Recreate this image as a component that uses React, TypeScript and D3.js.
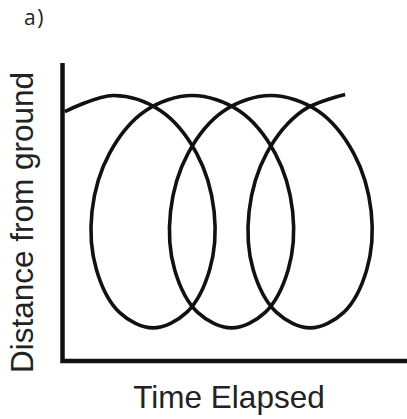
import React from "react";
import * as d3 from "d3";

// Time values (arbitrary units, 0..100 along the time axis)
const timeValues: number[] = [
  0.7, 14.9, 28.6, 39.1, 44.2, 42.9, 36.2, 26.4, 16.6, 9.9, 8.6, 13.7, 24.2,
  37.8, 51.5, 62.0, 67.1, 65.8, 59.1, 49.3, 39.4, 32.7, 31.5, 36.6, 47.1,
  60.7, 74.4, 84.9, 90.0, 88.7, 82.0, 72.2, 62.4, 55.6, 54.4, 59.5, 70.0,
  82.4,
];

// Distance from ground (arbitrary units, 0..100)
const distanceValues: number[] = [
  83.7, 89.1, 84.0, 69.7, 50.2, 30.6, 16.3, 11.1, 16.3, 30.6, 50.2, 69.7, 84.0,
  89.1, 84.0, 69.7, 50.2, 30.6, 16.3, 11.1, 16.3, 30.6, 50.2, 69.7, 84.0,
  89.1, 84.0, 69.7, 50.2, 30.6, 16.3, 11.1, 16.3, 30.6, 50.2, 69.7, 84.0,
  89.4,
];

const panelLabel = "a)";
const xTitle = "Time Elapsed";
const yTitle = "Distance from ground";

const W = 407;
const H = 419;

export default function App() {
  const x = d3.scaleLinear().domain([0, 100]).range([62.5, 405.5]);
  const y = d3.scaleLinear().domain([0, 100]).range([361, 63]);

  const pts: [number, number][] = timeValues.map((t, i) => [t, distanceValues[i]]);
  const line = d3
    .line<[number, number]>()
    .x((d) => x(d[0]))
    .y((d) => y(d[1]))
    .curve(d3.curveCatmullRom.alpha(0.5));

  const x0 = x(0);
  const y0 = y(0);
  const yTop = y(100);
  const font = "'Liberation Sans', Arial, sans-serif";

  return (
    <svg
      width={W}
      height={H}
      style={{ position: "absolute", left: 0, top: 0, background: "#fff" }}
    >
      <rect x={0} y={0} width={W} height={H} fill="#fff" />
      <text
        x={24}
        y={25}
        fontSize={21}
        fontFamily="'Open Sans', 'Liberation Sans', sans-serif"
        fill="#1e1e1e"
        letterSpacing={1.5}
      >
        {panelLabel}
      </text>
      <path
        d={`M${x0},${yTop} V${y0} H${W}`}
        fill="none"
        stroke="#111"
        strokeWidth={4.5}
        strokeLinejoin="miter"
      />
      <path d={line(pts) || ""} fill="none" stroke="#111" strokeWidth={3.6} strokeLinejoin="round" />
      <text
        x={229}
        y={408}
        fontSize={31.5}
        fontFamily={font}
        fill="#222"
        textAnchor="middle"
      >
        {xTitle}
      </text>
      <text
        transform="translate(33,222.5) rotate(-90)"
        fontSize={31.5}
        fontFamily={font}
        fill="#222"
        textAnchor="middle"
      >
        {yTitle}
      </text>
    </svg>
  );
}
